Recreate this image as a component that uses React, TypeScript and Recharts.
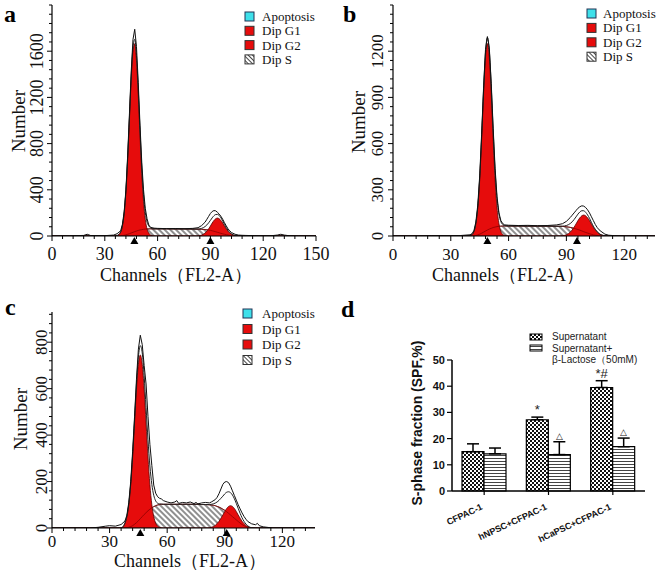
import React from "react";
import { ComposedChart, Area, Line, XAxis, YAxis, ReferenceDot, Label, BarChart, Bar, ErrorBar, LabelList } from "recharts";

const SERIF = '"Liberation Serif", "Times New Roman", serif';
const SANS = '"Liberation Sans", Arial, sans-serif';
const RED = "#e60c0c";
const AXIS = { stroke: "#000", strokeWidth: 1.2 };

// ---- panel a (channels / counts)
const chA = [0, 10, 18, 20, 22, 30, 35, 37, 39, 40,
	41, 42, 43, 44, 45, 46, 47, 48, 49, 50,
	51, 52, 53, 54, 55, 56, 58, 60, 65, 70,
	75, 80, 83, 85, 87, 88, 89, 90, 91, 92,
	93, 94, 95, 96, 97, 98, 99, 100, 101, 102,
	104, 106, 108, 110, 115, 120, 125, 128, 130, 132,
	135, 140, 150];
const rawA = [0, 2, 5, 15, 4, 3, 8, 20, 45, 100,
	210, 400, 700, 1060, 1420, 1700, 1790, 1640, 1330, 960,
	640, 400, 240, 150, 95, 75, 68, 66, 64, 65,
	63, 66, 72, 90, 120, 145, 170, 195, 212, 220,
	218, 205, 190, 170, 145, 115, 88, 62, 45, 30,
	15, 8, 6, 5, 3, 2, 3, 8, 15, 8,
	2, 0, 0];
const g1A = [0, 0, 0, 0, 0, 0, 0, 4, 34, 87,
	195, 385, 665, 1010, 1355, 1600, 1665, 1520, 1225, 870,
	540, 300, 145, 60, 25, 8, 0, 0, 0, 0,
	0, 0, 0, 0, 0, 0, 0, 0, 0, 0,
	0, 0, 0, 0, 0, 0, 0, 0, 0, 0,
	0, 0, 0, 0, 0, 0, 0, 0, 0, 0,
	0, 0, 0];
const sA = [0, 0, 0, 0, 0, 0, 0, 0, 0, 3,
	6, 10, 15, 20, 26, 32, 38, 43, 48, 52,
	55, 58, 60, 61, 62, 62, 62, 62, 62, 61,
	61, 60, 59, 58, 56, 54, 52, 49, 45, 41,
	37, 32, 28, 23, 19, 15, 11, 8, 5, 3,
	0, 0, 0, 0, 0, 0, 0, 0, 0, 0,
	0, 0, 0];
const g2A = [0, 0, 0, 0, 0, 0, 0, 0, 0, 0,
	0, 0, 0, 0, 0, 0, 0, 0, 0, 0,
	0, 0, 0, 0, 0, 0, 0, 0, 0, 0,
	0, 0, 1, 8, 26, 42, 62, 86, 112, 134,
	149, 155, 149, 134, 112, 86, 62, 42, 26, 16,
	4, 1, 0, 0, 0, 0, 0, 0, 0, 0,
	0, 0, 0];
const peaksA = [46.8, 90];

// ---- panel b
const chB = [0, 10, 20, 30, 35, 40, 41, 42, 43, 44,
	45, 46, 47, 48, 49, 50, 51, 52, 53, 54,
	55, 56, 57, 58, 60, 65, 70, 75, 80, 85,
	88, 90, 92, 93, 94, 95, 96, 97, 98, 99,
	100, 101, 102, 103, 104, 105, 106, 107, 108, 110,
	112, 115, 120, 130, 136];
const rawB = [0, 0, 2, 2, 3, 8, 15, 35, 90, 200,
	390, 660, 960, 1210, 1295, 1220, 990, 700, 440, 255,
	150, 100, 80, 72, 70, 68, 69, 67, 68, 72,
	80, 95, 120, 135, 150, 165, 180, 190, 196, 194,
	185, 170, 150, 125, 100, 75, 55, 40, 30, 12,
	5, 2, 0, 0, 0];
const g1B = [0, 0, 0, 0, 0, 3, 9, 29, 80, 183,
	365, 627, 919, 1157, 1250, 1157, 919, 627, 365, 183,
	80, 29, 9, 2, 0, 0, 0, 0, 0, 0,
	0, 0, 0, 0, 0, 0, 0, 0, 0, 0,
	0, 0, 0, 0, 0, 0, 0, 0, 0, 0,
	0, 0, 0, 0, 0];
const sB = [0, 0, 0, 0, 0, 0, 0, 0, 3, 7,
	12, 18, 25, 32, 39, 45, 50, 55, 58, 61,
	63, 64, 65, 65, 65, 65, 64, 64, 64, 63,
	62, 60, 56, 53, 50, 46, 42, 38, 33, 28,
	23, 19, 15, 11, 7, 5, 3, 1, 0, 0,
	0, 0, 0, 0, 0];
const g2B = [0, 0, 0, 0, 0, 0, 0, 0, 0, 0,
	0, 0, 0, 0, 0, 0, 0, 0, 0, 0,
	0, 0, 0, 0, 0, 0, 0, 0, 0, 0,
	2, 8, 25, 39, 57, 78, 100, 118, 131, 136,
	131, 118, 100, 78, 57, 39, 25, 15, 8, 2,
	0, 0, 0, 0, 0];
const peaksB = [49, 95.5];

// ---- panel c
const chC = [0, 20, 24, 28, 30, 33, 36, 38, 39, 40,
	41, 42, 43, 44, 45, 46, 47, 48, 49, 50,
	51, 52, 53, 54, 55, 56, 57, 58, 60, 62,
	64, 65, 66, 68, 70, 72, 74, 75, 76, 78,
	80, 82, 83, 85, 86, 87, 88, 89, 90, 91,
	92, 93, 94, 95, 96, 97, 98, 99, 100, 101,
	102, 104, 106, 107, 108, 110, 112, 115, 137];
const rawC = [0, 0, 3, 8, 10, 8, 15, 30, 55, 110,
	200, 330, 480, 640, 770, 830, 790, 700, 620, 480,
	360, 270, 185, 150, 135, 128, 125, 118, 112, 108,
	112, 118, 106, 110, 108, 112, 105, 110, 104, 108,
	110, 108, 112, 122, 132, 148, 168, 188, 198, 200,
	195, 180, 160, 140, 120, 100, 82, 65, 50, 38,
	28, 18, 14, 20, 10, 5, 3, 0, 0];
const g1C = [0, 0, 0, 0, 0, 0, 0, 21, 49, 101,
	186, 306, 452, 597, 705, 745, 705, 597, 452, 306,
	186, 101, 49, 21, 8, 3, 1, 0, 0, 0,
	0, 0, 0, 0, 0, 0, 0, 0, 0, 0,
	0, 0, 0, 0, 0, 0, 0, 0, 0, 0,
	0, 0, 0, 0, 0, 0, 0, 0, 0, 0,
	0, 0, 0, 0, 0, 0, 0, 0, 0];
const sC = [0, 0, 0, 0, 0, 0, 0, 0, 1, 3,
	6, 10, 16, 23, 31, 40, 49, 58, 66, 74,
	81, 87, 92, 96, 99, 101, 102, 102, 102, 102,
	102, 102, 102, 102, 102, 102, 102, 102, 102, 101,
	101, 100, 99, 96, 93, 90, 86, 81, 76, 70,
	63, 56, 49, 42, 35, 28, 21, 15, 10, 6,
	3, 0, 0, 0, 0, 0, 0, 0, 0];
const g2C = [0, 0, 0, 0, 0, 0, 0, 0, 0, 0,
	0, 0, 0, 0, 0, 0, 0, 0, 0, 0,
	0, 0, 0, 0, 0, 0, 0, 0, 0, 0,
	0, 0, 0, 0, 0, 0, 0, 0, 0, 0,
	0, 1, 3, 11, 19, 29, 42, 56, 71, 84,
	93, 96, 93, 84, 71, 56, 42, 29, 19, 11,
	6, 1, 0, 0, 0, 0, 0, 0, 0];
const peaksC = [46, 91];

// tick labels
const xMajorA = [0, 30, 60, 90, 120, 150];
const xMajorBC = [0, 30, 60, 90, 120];
const yMajorA = [0, 400, 800, 1200, 1600];
const yMajorB = [0, 300, 600, 900, 1200];
const yMajorC = [0, 200, 400, 600, 800];
const legendItems = ["Apoptosis", "Dip G1", "Dip G2", "Dip S"];

// ---- panel d
const groups = ["CFPAC-1", "hNPSC+CFPAC-1", "hCaPSC+CFPAC-1"];
const supernatant = [15.0, 27.2, 39.5];
const supernatantErr = [3.0, 1.0, 2.6];
const lactose = [14.2, 13.9, 16.9];
const lactoseErr = [2.2, 4.9, 3.3];
const supMarks = ["", "*", "*#"];
const lacMarks = ["", "△", "△"];
const yTicksD = [0, 10, 20, 30, 40, 50];

const steps = (max: number, step: number) => {
	const out: number[] = [];
	for (let v = 0; v <= max + 1e-9; v += step) out.push(v);
	return out;
};

const XTick = (p: any) => {
	const v = p.payload.value;
	const major = p.majors.includes(v);
	return (
		<g>
			<line x1={p.x} y1={p.y} x2={p.x} y2={p.y + (major ? 5 : 3)} stroke="#000" />
			{major && (
				<text x={p.x} y={p.y + p.dy} textAnchor="middle" fontSize={p.size} fontFamily={SERIF} fill="#111">{v}</text>
			)}
		</g>
	);
};

const YTick = (p: any) => {
	const v = p.payload.value;
	const major = p.majors.includes(v);
	const tx = p.x - p.gap;
	return (
		<g>
			<line x1={p.x} y1={p.y} x2={p.x - (major ? 5 : 3)} y2={p.y} stroke="#000" />
			{major && (
				<text x={tx} y={p.y} transform={`rotate(-90 ${tx} ${p.y})`} textAnchor="middle" fontSize={p.size} fontFamily={SERIF} fill="#111">{v}</text>
			)}
		</g>
	);
};

const Tri = (p: any) => (
	<path d={`M${p.cx},${p.cy + 1} L${p.cx - 4},${p.cy + 8} L${p.cx + 4},${p.cy + 8} Z`} fill="#000" />
);

type HistCfg = {
	id: string; w: number; h: number;
	top: number; right: number; left: number; bottom: number;
	ch: number[]; raw: number[]; g1: number[]; s: number[]; g2: number[];
	xMax: number; yMax: number; xMajor: number[]; yMajor: number[]; yStep: number;
	peaks: number[]; font: number; xDy: number; yGap: number;
	titleX: number; titleY: number; numX: number; numY: number;
};

const HistChart = ({ c }: { c: HistCfg }) => {
	const rows = c.ch.map((v, i) => ({
		ch: v, raw: c.raw[i], g1: c.g1[i], s: c.s[i], g2: c.g2[i],
		fit: c.g1[i] + c.s[i] + c.g2[i],
	}));
	return (
		<ComposedChart width={c.w} height={c.h} data={rows} margin={{ top: c.top, right: c.right, bottom: 0, left: 0 }}>
			<defs>
				<pattern id={`hatch-${c.id}`} width={4} height={4} patternUnits="userSpaceOnUse" patternTransform="rotate(-45)">
					<rect width={4} height={4} fill="#fff" />
					<line x1={2} y1={0} x2={2} y2={4} stroke="#333" strokeWidth={1.1} />
				</pattern>
			</defs>
			<XAxis type="number" dataKey="ch" domain={[0, c.xMax]} ticks={steps(c.xMax, 6)} interval={0} allowDataOverflow
				height={c.bottom} tickSize={0} tickMargin={0} tickLine={false} axisLine={AXIS}
				tick={(p: any) => <XTick {...p} majors={c.xMajor} dy={c.xDy} size={c.font} />}>
				<Label content={() => (
					<text x={c.titleX} y={c.titleY} textAnchor="middle" fontSize={18} fontFamily={SERIF} fill="#111">Channels（FL2-A）</text>
				)} />
			</XAxis>
			<YAxis type="number" domain={[0, c.yMax]} ticks={steps(c.yMax, c.yStep)} interval={0} allowDataOverflow
				width={c.left} tickSize={0} tickMargin={0} tickLine={false} axisLine={AXIS}
				tick={(p: any) => <YTick {...p} majors={c.yMajor} gap={c.yGap} size={c.font} />}>
				<Label content={() => (
					<text x={c.numX} y={c.numY} transform={`rotate(-90 ${c.numX} ${c.numY})`} textAnchor="middle" fontSize={19} fontFamily={SERIF} fill="#111">Number</text>
				)} />
			</YAxis>
			<Area type="monotone" dataKey="s" fill={`url(#hatch-${c.id})`} fillOpacity={1} stroke="#333" strokeWidth={0.8} dot={false} activeDot={false} isAnimationActive={false} />
			<Area type="monotone" dataKey="g1" fill={RED} fillOpacity={1} stroke="#5a0000" strokeWidth={0.8} dot={false} activeDot={false} isAnimationActive={false} />
			<Area type="monotone" dataKey="g2" fill={RED} fillOpacity={1} stroke="#5a0000" strokeWidth={0.8} dot={false} activeDot={false} isAnimationActive={false} />
			<Line type="monotone" dataKey="s" stroke="#8a0000" strokeWidth={0.8} dot={false} activeDot={false} isAnimationActive={false} />
			<Line type="monotone" dataKey="fit" stroke="#222" strokeWidth={1} dot={false} activeDot={false} isAnimationActive={false} />
			<Line type="linear" dataKey="raw" stroke="#111" strokeWidth={1} dot={false} activeDot={false} isAnimationActive={false} />
			{c.peaks.map((pk) => (
				<ReferenceDot key={pk} x={pk} y={0} r={4} ifOverflow="visible" shape={Tri} />
			))}
		</ComposedChart>
	);
};

const FlowLegend = ({ id, x, y, step, tx }: { id: string; x: number; y: number; step: number; tx: number }) => (
	<g fontFamily={SERIF} fontSize={13} fill="#111">
		{legendItems.map((name, i) => {
			const cy = y + i * step;
			const fill = i === 0 ? "#3fe0ea" : i === 3 ? `url(#leg-hatch)` : RED;
			return (
				<g key={id + name}>
					<rect x={x} y={cy - 4.5} width={9} height={9} fill={fill} stroke={i === 0 ? "#235" : "#333"} strokeWidth={1} />
					<text x={tx} y={cy + 4.5}>{name}</text>
				</g>
			);
		})}
	</g>
);

const barRows = groups.map((g, i) => ({
	name: g,
	sup: supernatant[i],
	lac: lactose[i],
	supErr: [0, supernatantErr[i]],
	lacErr: [0, lactoseErr[i]],
	supMark: supMarks[i],
	lacMark: lacMarks[i],
}));

const markContent = (vals: number[], errs: number[]) => (p: any) => {
	const vb = p.viewBox && p.viewBox.width !== undefined ? p.viewBox : p;
	if (!p.value) return null;
	const ppu = Math.abs(vb.height) / vals[p.index];
	const top = Math.min(vb.y, vb.y + vb.height) - errs[p.index] * ppu;
	const tri = p.value === "△";
	return (
		<text x={vb.x + vb.width / 2} y={top - 3} textAnchor="middle" fontSize={tri ? 9 : 13} fontFamily={SANS} fill="#222">{p.value}</text>
	);
};

const CatTick = (p: any) => (
	<g>
		<line x1={p.x} y1={p.y} x2={p.x} y2={p.y + 4} stroke="#000" strokeWidth={1.2} />
		<text x={p.x - 1} y={p.y + 18} transform={`rotate(-25 ${p.x - 1} ${p.y + 18})`} textAnchor="end" fontSize={9} fontWeight="bold" fontFamily={SANS} fill="#111">{p.payload.value}</text>
	</g>
);

const BarYTick = (p: any) => (
	<g>
		<line x1={p.x} y1={p.y} x2={p.x - 5} y2={p.y} stroke="#000" strokeWidth={1.2} />
		<text x={p.x - 7} y={p.y + 4} textAnchor="end" fontSize={11} fontWeight="bold" fontFamily={SANS} fill="#111">{p.payload.value}</text>
	</g>
);

const histA: HistCfg = {
	id: "a", w: 330, h: 292, top: 5, right: 14, left: 52, bottom: 56,
	ch: chA, raw: rawA, g1: g1A, s: sA, g2: g2A,
	xMax: 150, yMax: 2000, xMajor: xMajorA, yMajor: yMajorA, yStep: 80,
	peaks: peaksA, font: 18, xDy: 24, yGap: 9, titleX: 176, titleY: 281, numX: 25, numY: 121,
};
const histB: HistCfg = {
	id: "b", w: 334, h: 292, top: 5, right: 9, left: 63, bottom: 56,
	ch: chB, raw: rawB, g1: g1B, s: sB, g2: g2B,
	xMax: 136, yMax: 1500, xMajor: xMajorBC, yMajor: yMajorB, yStep: 60,
	peaks: peaksB, font: 17, xDy: 24, yGap: 10, titleX: 178, titleY: 281, numX: 35, numY: 122,
};
const histC: HistCfg = {
	id: "c", w: 330, h: 295, top: 32, right: 15, left: 52, bottom: 47,
	ch: chC, raw: rawC, g1: g1C, s: sC, g2: g2C,
	xMax: 137, yMax: 930, xMajor: xMajorBC, yMajor: yMajorC, yStep: 40,
	peaks: peaksC, font: 17, xDy: 19, yGap: 5, titleX: 190, titleY: 287, numX: 27, numY: 139,
};

const App: React.FC = () => {
	return (
		<div style={{ position: "absolute", left: 0, top: 0, width: 664, height: 575, background: "#fff", overflow: "hidden" }}>
			<div style={{ position: "absolute", left: 0, top: 0 }}><HistChart c={histA} /></div>
			<div style={{ position: "absolute", left: 330, top: 0 }}><HistChart c={histB} /></div>
			<div style={{ position: "absolute", left: 0, top: 280 }}><HistChart c={histC} /></div>
			<div style={{ position: "absolute", left: 330, top: 280 }}>
				<BarChart width={334} height={295} data={barRows} margin={{ top: 80, right: 19, bottom: 0, left: 0 }} barGap={0} barCategoryGap="15%">
					<defs>
						<pattern id="chk" width={4} height={4} patternUnits="userSpaceOnUse">
							<rect width={4} height={4} fill="#fff" />
							<rect x={0} y={0} width={2} height={2} fill="#111" />
							<rect x={2} y={2} width={2} height={2} fill="#111" />
						</pattern>
						<pattern id="hlines" width={3} height={3} patternUnits="userSpaceOnUse">
							<rect width={3} height={3} fill="#fff" />
							<line x1={0} y1={1.5} x2={3} y2={1.5} stroke="#444" strokeWidth={1} />
						</pattern>
					</defs>
					<XAxis dataKey="name" interval={0} height={84} tickSize={0} tickMargin={0} tickLine={false}
						axisLine={{ stroke: "#000", strokeWidth: 1.5 }} tick={CatTick} />
					<YAxis domain={[0, 50]} ticks={yTicksD} interval={0} width={122} tickSize={0} tickMargin={0} tickLine={false}
						axisLine={{ stroke: "#000", strokeWidth: 1.5 }} tick={BarYTick}>
						<Label content={() => (
							<text x={92} y={143} transform="rotate(-90 92 143)" textAnchor="middle" fontSize={14} fontWeight="bold" fontFamily={SANS} fill="#111">S-phase fraction (SPF,%)</text>
						)} />
					</YAxis>
					<Bar dataKey="sup" fill="url(#chk)" stroke="#000" strokeWidth={1.2} barSize={22} isAnimationActive={false}>
						<ErrorBar dataKey="supErr" width={6} stroke="#000" strokeWidth={1.5} />
						<LabelList dataKey="supMark" content={markContent(supernatant, supernatantErr)} />
					</Bar>
					<Bar dataKey="lac" fill="url(#hlines)" stroke="#000" strokeWidth={1.2} barSize={22} isAnimationActive={false}>
						<ErrorBar dataKey="lacErr" width={6} stroke="#000" strokeWidth={1.5} />
						<LabelList dataKey="lacMark" content={markContent(lactose, lactoseErr)} />
					</Bar>
				</BarChart>
			</div>
			<svg width={664} height={575} style={{ position: "absolute", left: 0, top: 0, pointerEvents: "none" }}>
				<defs>
					<pattern id="leg-hatch" width={3} height={3} patternUnits="userSpaceOnUse" patternTransform="rotate(-45)">
						<rect width={3} height={3} fill="#fff" />
						<line x1={1.5} y1={0} x2={1.5} y2={3} stroke="#333" strokeWidth={0.9} />
					</pattern>
					<pattern id="leg-chk" width={4} height={4} patternUnits="userSpaceOnUse">
						<rect width={4} height={4} fill="#fff" />
						<rect x={0} y={0} width={2} height={2} fill="#111" />
						<rect x={2} y={2} width={2} height={2} fill="#111" />
					</pattern>
					<pattern id="leg-lines" width={3} height={3} patternUnits="userSpaceOnUse">
						<rect width={3} height={3} fill="#fff" />
						<line x1={0} y1={1.5} x2={3} y2={1.5} stroke="#444" strokeWidth={1} />
					</pattern>
				</defs>
				<g fontFamily={SERIF} fontWeight="bold" fontSize={24} fill="#000">
					<text x={4} y={22}>a</text>
					<text x={343} y={22}>b</text>
					<text x={5} y={315}>c</text>
					<text x={341} y={317}>d</text>
				</g>
				<FlowLegend id="a" x={245} y={16.5} step={14.3} tx={262} />
				<FlowLegend id="b" x={587} y={13.5} step={14.4} tx={603} />
				<FlowLegend id="c" x={243} y={313.5} step={15.5} tx={262} />
				<g fontFamily={SANS} fontSize={10} fill="#222">
					<rect x={530} y={334} width={12} height={6} fill="url(#leg-chk)" stroke="#000" strokeWidth={1} />
					<text x={552} y={340}>Supernatant</text>
					<rect x={530} y={345} width={12} height={6} fill="url(#leg-lines)" stroke="#000" strokeWidth={1} />
					<text x={552} y={351.5}>Supernatant+</text>
					<text x={552} y={363}>β-Lactose（50mM)</text>
				</g>
			</svg>
		</div>
	);
};

export default App;
